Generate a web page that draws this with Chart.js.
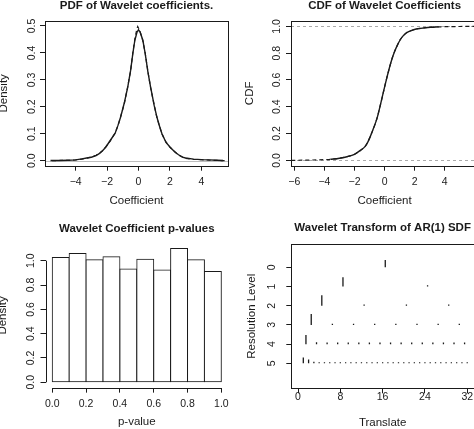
<!DOCTYPE html>
<html>
<head>
<meta charset="utf-8">
<script src="https://cdn.jsdelivr.net/npm/chart.js@4.4.1/dist/chart.umd.min.js"></script>
<style>
html, body { margin: 0; padding: 0; background: #fff; }
#page { position: relative; width: 474px; height: 429px; overflow: hidden; background: #fff; }
.panel { position: absolute; overflow: hidden; }
canvas { display: block; }
</style>
</head>
<body>
<div id="page">
  <div class="panel" style="left:0;top:0;width:237px;height:215px"><canvas id="pdfChart" width="237" height="215"></canvas></div>
  <div class="panel" style="left:237px;top:0;width:237px;height:215px"><canvas id="cdfChart" width="250" height="215"></canvas></div>
  <div class="panel" style="left:0;top:215px;width:237px;height:214px"><canvas id="histChart" width="237" height="214"></canvas></div>
  <div class="panel" style="left:237px;top:215px;width:237px;height:214px"><canvas id="dwtChart" width="240" height="214"></canvas></div>
</div>
<script>
// --- PDF of wavelet coefficients (solid = estimate, dashed = fitted)
const pdfX = [-5.6, -5.0, -4.5, -4.0, -3.6, -3.3, -3.0, -2.7, -2.5, -2.3, -2.06, -1.8, -1.49, -1.3, -1.13, -0.9, -0.68, -0.5, -0.36, -0.23, -0.1, 0.0, 0.1, 0.28, 0.43, 0.6, 0.77, 1.0, 1.17, 1.3, 1.49, 1.75, 2.02, 2.3, 2.55, 2.8, 3.0, 3.5, 4.0, 4.5, 5.0, 5.38];
const pdfY = [0.001, 0.001, 0.002, 0.003, 0.007, 0.010, 0.013, 0.019, 0.026, 0.036, 0.052, 0.075, 0.101, 0.132, 0.163, 0.215, 0.274, 0.335, 0.397, 0.447, 0.476, 0.486, 0.478, 0.447, 0.397, 0.330, 0.274, 0.205, 0.163, 0.135, 0.101, 0.068, 0.050, 0.033, 0.022, 0.013, 0.010, 0.006, 0.004, 0.003, 0.002, 0.001];
const pdfFitX = [-5.5, -5.0, -4.5, -4.0, -3.6, -3.3, -3.0, -2.7, -2.5, -2.3, -2.06, -1.8, -1.49, -1.3, -1.13, -0.9, -0.68, -0.5, -0.36, -0.23, -0.1, -0.05, 0.05, 0.1, 0.28, 0.43, 0.6, 0.77, 1.0, 1.17, 1.3, 1.49, 1.75, 2.02, 2.3, 2.55, 2.8, 3.0, 3.5, 4.0, 4.5, 5.0, 5.5];
const pdfFitY = [0.000, 0.001, 0.001, 0.003, 0.006, 0.009, 0.014, 0.020, 0.027, 0.037, 0.053, 0.073, 0.103, 0.130, 0.165, 0.212, 0.276, 0.333, 0.400, 0.452, 0.490, 0.498, 0.487, 0.480, 0.445, 0.399, 0.332, 0.272, 0.207, 0.161, 0.137, 0.099, 0.070, 0.049, 0.034, 0.021, 0.014, 0.009, 0.005, 0.004, 0.002, 0.001, 0.000];
const pdfXTicks = [-4, -2, 0, 2, 4];
const pdfXLabels = ['\u22124', '\u22122', '0', '2', '4'];
const pdfYTicks = [0, 0.1, 0.2, 0.3, 0.4, 0.5];
const pdfYLabels = ['0.0', '0.1', '0.2', '0.3', '0.4', '0.5'];

// --- CDF of wavelet coefficients (solid = empirical, dashed = fitted)
const cdfX = [-3.6, -3.4, -3.0, -2.5, -2.0, -1.6, -1.29, -1.1, -0.96, -0.7, -0.5, -0.33, -0.12, 0.09, 0.33, 0.5, 0.64, 0.85, 1.04, 1.2, 1.38, 1.6, 1.93, 2.4, 3.04, 3.6];
const cdfY = [0.008, 0.010, 0.016, 0.027, 0.045, 0.075, 0.104, 0.140, 0.175, 0.250, 0.315, 0.390, 0.490, 0.590, 0.695, 0.760, 0.805, 0.860, 0.900, 0.925, 0.945, 0.960, 0.975, 0.985, 0.993, 0.996];
const cdfFitX = [-6.2, -5.0, -4.0, -3.4, -3.0, -2.5, -2.0, -1.6, -1.29, -1.1, -0.96, -0.7, -0.5, -0.33, -0.12, 0.09, 0.33, 0.5, 0.64, 0.85, 1.04, 1.2, 1.38, 1.6, 1.93, 2.4, 3.04, 4.2, 5.0, 6.2];
const cdfFitY = [0.000, 0.002, 0.005, 0.010, 0.016, 0.027, 0.046, 0.074, 0.105, 0.141, 0.176, 0.249, 0.316, 0.391, 0.489, 0.591, 0.694, 0.761, 0.806, 0.859, 0.901, 0.924, 0.946, 0.961, 0.975, 0.986, 0.993, 0.998, 0.999, 1.000];
const cdfRefLines = [0, 1];
const cdfXTicks = [-6, -4, -2, 0, 2, 4];
const cdfXLabels = ['\u22126', '\u22124', '\u22122', '0', '2', '4'];
const cdfYTicks = [0, 0.2, 0.4, 0.6, 0.8, 1.0];
const cdfYLabels = ['0.0', '0.2', '0.4', '0.6', '0.8', '1.0'];

// --- Histogram of p-values
const pBreaks = [0, 0.1, 0.2, 0.3, 0.4, 0.5, 0.6, 0.7, 0.8, 0.9, 1.0];
const pDensity = [1.027, 1.060, 1.008, 1.033, 0.932, 1.011, 0.923, 1.101, 1.008, 0.912];
const pTicks = [0, 0.2, 0.4, 0.6, 0.8, 1.0];
const pLabels = ['0.0', '0.2', '0.4', '0.6', '0.8', '1.0'];

// --- Wavelet transform of AR(1) SDF: coefficient size per resolution level
const level0 = [0.38];
const level1 = [0.48, 0.07];
const level2 = [0.55, 0.06, 0.06, 0.06];
const level3 = [0.57, 0.06, 0.06, 0.06, 0.06, 0.06, 0.06, 0.06];
const level4 = [0.47, 0.10, 0.08, 0.08, 0.08, 0.08, 0.08, 0.08, 0.08, 0.08, 0.08, 0.08, 0.08, 0.08, 0.08, 0.08];
const level5 = [0.30, 0.20, 0.08, 0.06, 0.06, 0.06, 0.06, 0.06, 0.06, 0.06, 0.06, 0.06, 0.06, 0.06, 0.06, 0.06,
                0.06, 0.06, 0.06, 0.06, 0.06, 0.06, 0.06, 0.06, 0.06, 0.06, 0.06, 0.06, 0.06, 0.06, 0.06, 0.06];
const levels = [level0, level1, level2, level3, level4, level5];
const dwtXTicks = [0, 8, 16, 24, 32];
const dwtXLabels = ['0', '8', '16', '24', '32'];
const dwtYTicks = [0, 1, 2, 3, 4, 5];
const dwtYLabels = ['0', '1', '2', '3', '4', '5'];

Chart.defaults.font.family = "'Liberation Sans', Arial, Helvetica, sans-serif";
Chart.defaults.color = '#111';

const INK = '#1a1a1a';

function pts(xs, ys) {
    return xs.map((x, i) => ({ x: x, y: ys[i] }));
}

// axis with R-like tick marks outside the box
function xAxis(o) {
    return {
        type: 'linear', position: 'bottom', min: o.min, max: o.max, offset: false,
        afterBuildTicks: s => { s.ticks = o.ticks.map(v => ({ value: v })); },
        afterFit: s => { s.height = o.size; },
        grid: { drawOnChartArea: false, drawTicks: true, tickLength: 5, color: INK, offset: false },
        border: { display: false },
        ticks: { font: { size: 10.5 }, color: INK, padding: o.pad, autoSkip: false, maxRotation: 0,
                 callback: (v, i) => o.labels[i] },
        title: { display: true, text: o.title, font: { size: 11.5 }, color: INK, padding: { top: 0, bottom: o.titlePad } }
    };
}

function yAxis(o) {
    return {
        type: 'linear', position: 'left', min: o.min, max: o.max, reverse: !!o.reverse,
        afterBuildTicks: s => { s.ticks = o.ticks.map(v => ({ value: v })); },
        afterFit: s => { s.width = o.size; },
        grid: { drawOnChartArea: false, drawTicks: true, tickLength: 5, color: INK },
        border: { display: false },
        ticks: { font: { size: 10.5 }, color: INK, padding: o.pad, autoSkip: false,
                 minRotation: 90, maxRotation: 90, crossAlign: 'center',
                 callback: (v, i) => o.labels[i] },
        title: { display: true, text: o.title, font: { size: 11.5 }, color: INK, padding: { top: o.titlePad, bottom: 0 } }
    };
}

function mainTitle(text, top, bottom) {
    return { display: true, text: text, fullSize: false, color: INK,
             font: { size: 11.5, weight: 'bold' }, padding: { top: top, bottom: bottom } };
}

// box, reference lines and open axes
const frame = {
    id: 'frame',
    beforeDatasetsDraw(chart, args, opts) {
        const { ctx, chartArea: a } = chart;
        const y = chart.scales.y;
        (opts.hLines || []).forEach(h => {
            const py = Math.round(y.getPixelForValue(h)) + 0.5;
            ctx.save();
            ctx.strokeStyle = opts.hColor || '#aaa';
            ctx.lineWidth = 1;
            ctx.setLineDash(opts.hDash || []);
            ctx.beginPath();
            ctx.moveTo(a.left, py);
            ctx.lineTo(a.right, py);
            ctx.stroke();
            ctx.restore();
        });
    },
    afterDraw(chart, args, opts) {
        const { ctx, chartArea: a, scales } = chart;
        ctx.save();
        ctx.strokeStyle = INK;
        ctx.lineWidth = 1;
        if (opts.box) {
            ctx.strokeRect(Math.round(a.left) + 0.5, Math.round(a.top) + 0.5,
                           Math.round(a.right - a.left), Math.round(a.bottom - a.top));
        }
        if (opts.axes) {
            const xs = opts.axes.x, ys = opts.axes.y;
            const by = Math.round(a.bottom) + 0.5, lx = Math.round(a.left) + 0.5;
            ctx.beginPath();
            ctx.moveTo(scales.x.getPixelForValue(xs[0]), by);
            ctx.lineTo(scales.x.getPixelForValue(xs[xs.length - 1]), by);
            ctx.moveTo(lx, scales.y.getPixelForValue(ys[0]));
            ctx.lineTo(lx, scales.y.getPixelForValue(ys[ys.length - 1]));
            ctx.stroke();
        }
        ctx.restore();
    }
};

const common = {
    responsive: false, animation: false, events: [],
    elements: { point: { radius: 0 }, line: { tension: 0 } }
};

// 1. PDF
new Chart(document.getElementById('pdfChart'), {
    type: 'line',
    data: {
        datasets: [
            { data: pts(pdfFitX, pdfFitY), borderColor: INK, borderWidth: 1.2, borderDash: [4, 3] },
            { data: pts(pdfX, pdfY), borderColor: INK, borderWidth: 1.4 }
        ]
    },
    options: Object.assign({}, common, {
        layout: { padding: { left: 0, top: 0, right: 9, bottom: 0 } },
        scales: {
            x: xAxis({ min: -5.95, max: 5.7, ticks: pdfXTicks, labels: pdfXLabels, size: 49.3, pad: 5.3, title: 'Coefficient', titlePad: 7.4 }),
            y: yAxis({ min: -0.0185, max: 0.5185, ticks: pdfYTicks, labels: pdfYLabels, size: 45, pad: 0.7, title: 'Density', titlePad: -3.4 })
        },
        plugins: {
            legend: { display: false }, tooltip: { enabled: false },
            title: mainTitle('PDF of Wavelet coefficients.', -0.9, 8.1),
            frame: { box: true, hLines: [0], hColor: '#bdbdbd' }
        }
    }),
    plugins: [frame]
});

// 2. CDF
new Chart(document.getElementById('cdfChart'), {
    type: 'line',
    data: {
        datasets: [
            { data: pts(cdfFitX, cdfFitY), borderColor: INK, borderWidth: 1.2, borderDash: [4, 3], cubicInterpolationMode: 'monotone' },
            { data: pts(cdfX, cdfY), borderColor: INK, borderWidth: 1.4, cubicInterpolationMode: 'monotone' }
        ]
    },
    options: Object.assign({}, common, {
        layout: { padding: { left: 0, top: 0, right: 8.8, bottom: 0 } },
        scales: {
            x: xAxis({ min: -6.22, max: 6.22, ticks: cdfXTicks, labels: cdfXLabels, size: 49.3, pad: 5.3, title: 'Coefficient', titlePad: 7.4 }),
            y: yAxis({ min: -0.04, max: 1.04, ticks: cdfYTicks, labels: cdfYLabels, size: 54, pad: 1.7, title: 'CDF', titlePad: 6.1 })
        },
        plugins: {
            legend: { display: false }, tooltip: { enabled: false },
            title: mainTitle('CDF of Wavelet Coefficients', -0.9, 8.1),
            frame: { box: true, hLines: cdfRefLines, hColor: '#aaaaaa', hDash: [3, 3] }
        }
    }),
    plugins: [frame]
});

// 3. Histogram of p-values
const binMids = pDensity.map((d, i) => (pBreaks[i] + pBreaks[i + 1]) / 2);
new Chart(document.getElementById('histChart'), {
    type: 'bar',
    data: {
        datasets: [{
            data: pts(binMids, pDensity),
            backgroundColor: '#ffffff', borderColor: INK, borderWidth: 1, borderSkipped: false,
            categoryPercentage: 1, barPercentage: 1, inflateAmount: 0.5
        }]
    },
    options: Object.assign({}, common, {
        layout: { padding: { left: 0, top: 0, right: 8.9, bottom: 0 } },
        scales: {
            x: xAxis({ min: -0.04, max: 1.04, ticks: pTicks, labels: pLabels, size: 41.35, pad: 5.35, title: 'p-value', titlePad: -0.2 }),
            y: yAxis({ min: -0.044, max: 1.144, ticks: pTicks, labels: pLabels, size: 45.5, pad: 2.2, title: 'Density', titlePad: -3.9 })
        },
        plugins: {
            legend: { display: false }, tooltip: { enabled: false },
            title: mainTitle('Wavelet Coefficient p-values', 6.6, 7.8),
            frame: { axes: { x: pTicks, y: pTicks } }
        }
    }),
    plugins: [frame]
});

// 4. Wavelet transform of AR(1) SDF: one vertical tick per coefficient
const segs = [];
levels.forEach((sizes, j) => {
    const step = 32 / sizes.length;
    sizes.forEach((h, k) => {
        const x = (k + 0.5) * step + 0.5;
        segs.push({ x: x, y: j }, { x: x, y: j - h }, { x: x, y: null });
    });
});
new Chart(document.getElementById('dwtChart'), {
    type: 'line',
    data: { datasets: [{ data: segs, borderColor: INK, borderWidth: 1.3, spanGaps: false, borderCapStyle: 'butt' }] },
    options: Object.assign({}, common, {
        layout: { padding: { left: 0, top: 0, right: 3, bottom: 0 } },
        scales: {
            x: xAxis({ min: -1.27, max: 33.28, ticks: dwtXTicks, labels: dwtXLabels, size: 40.7, pad: -2.6, title: 'Translate', titlePad: -0.9 }),
            y: yAxis({ min: -1.2, max: 6.3, reverse: true, ticks: dwtYTicks, labels: dwtYLabels, size: 54.3, pad: 11.4, title: 'Resolution Level', titlePad: 8.1 })
        },
        plugins: {
            legend: { display: false }, tooltip: { enabled: false },
            title: mainTitle('Wavelet Transform of AR(1) SDF', 6.4, 9.1),
            frame: { box: true }
        }
    }),
    plugins: [frame]
});
</script>
</body>
</html>
